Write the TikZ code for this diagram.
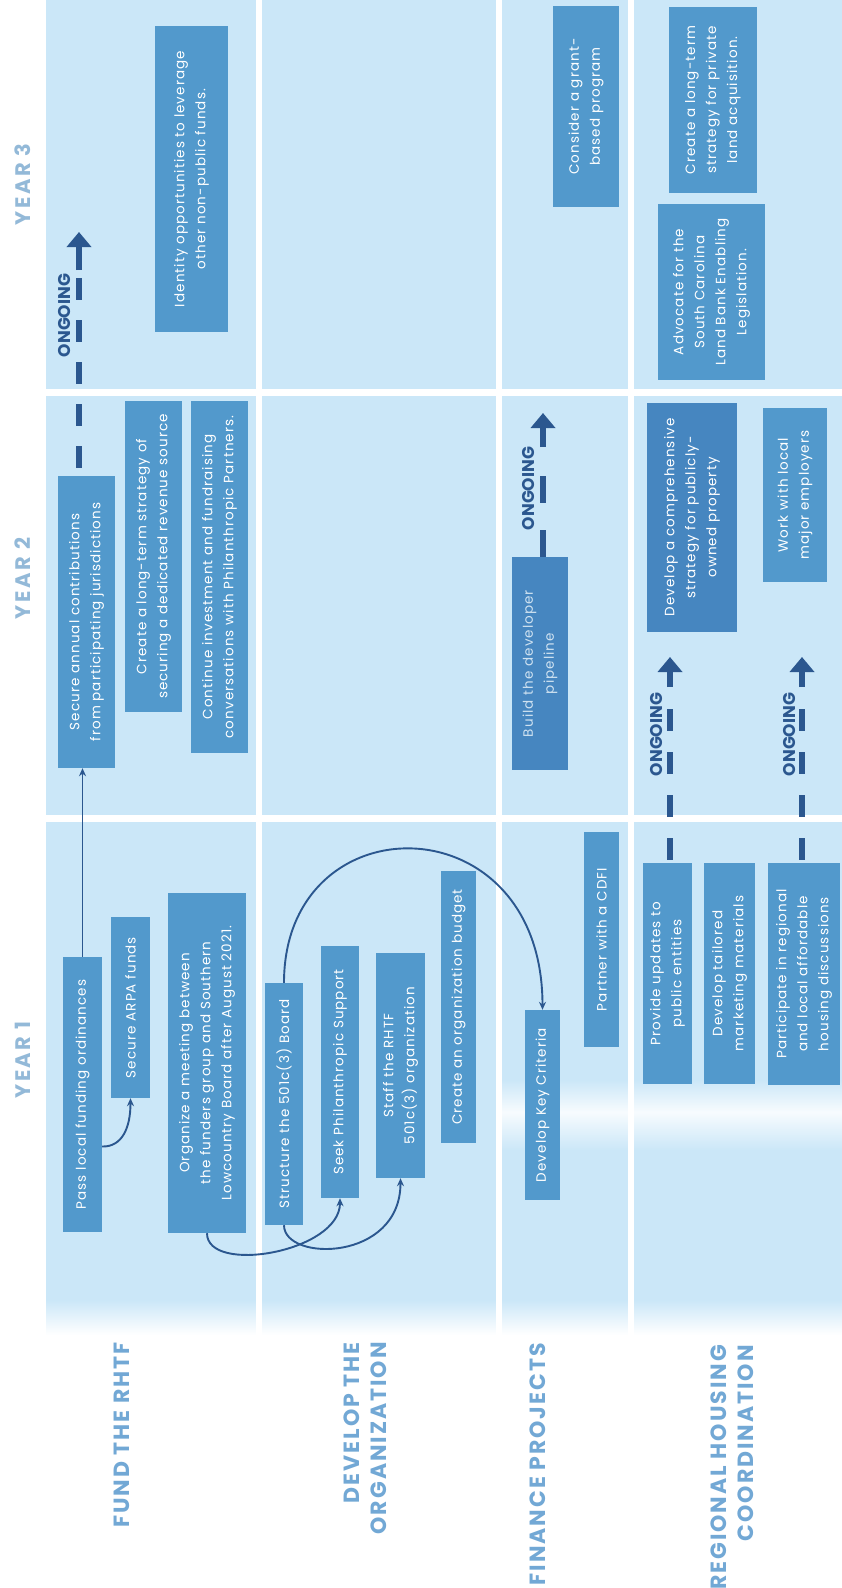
\documentclass[tikz,border=0pt]{standalone}
\usepackage{fontspec}
\setmainfont{Poppins}
\newfontfamily\boxfont[LetterSpace=8]{Poppins}
\newfontfamily\lblfont[LetterSpace=9]{Poppins}
\newfontfamily\yrfont[LetterSpace=12]{Poppins}
\usetikzlibrary{arrows.meta,calc}
\definecolor{bgblue}{HTML}{CBE7F8}
\definecolor{boxblue}{HTML}{5299CC}
\definecolor{boxdark}{HTML}{4686C0}
\definecolor{navy}{HTML}{2B578F}
\definecolor{lblblue}{HTML}{72A8D5}
\definecolor{yrblue}{HTML}{93B9D8}
\definecolor{fadetext}{HTML}{CFE2F1}
\tikzset{
  box/.style={rotate=90, fill=boxblue, text=white, align=center, inner sep=0pt,
    font={\boxfont\fontsize{13.5pt}{21pt}\selectfont}},
  darkbox/.style={box, fill=boxdark},
  thinarr/.style={draw=navy, line width=1.9pt, -{Stealth[length=8pt,width=7pt]}},
  dashln/.style={draw=navy, line width=6pt},
  ongarrow/.style={draw=navy, line width=6pt, -{Triangle[width=24pt,length=15pt]}},
  ongtext/.style={rotate=90, text=navy, inner sep=0pt,
    font={\bfseries\fontsize{17pt}{17pt}\selectfont}},
  rowlbl/.style={rotate=90, anchor=east, align=right, text=lblblue, inner sep=0pt,
    font={\lblfont\bfseries\fontsize{22pt}{27pt}\selectfont}},
  yrlbl/.style={rotate=90, text=yrblue, inner sep=0pt,
    font={\yrfont\bfseries\fontsize{21pt}{27pt}\selectfont}},
  sep/.style={draw=white, line width=6pt}
}
\begin{document}
\begin{tikzpicture}[x=1pt, y=-1pt]
\useasboundingbox (0,0) rectangle (842,1588);
\fill[white] (0,0) rectangle (842,1588);
% background grid
\fill[bgblue] (46,0) rectangle (842,1300);
\shade[top color=bgblue, bottom color=white] (46,1300) rectangle (842,1335);
% soft glare band across year 1
\shade[top color=bgblue, bottom color=white!85!bgblue] (502,1080) rectangle (842,1112);
\shade[top color=white!85!bgblue, bottom color=bgblue] (502,1112) rectangle (842,1150);
\draw[sep] (259,0) -- (259,1335);
\draw[sep] (498.5,0) -- (498.5,1335);
\draw[sep] (631,0) -- (631,1335);
\draw[sep, line width=7pt] (46,392.5) -- (842,392.5);
\draw[sep, line width=7pt] (46,818) -- (842,818);

% year labels
\node[yrlbl] (y1) at (22.5,1060) {YEAR 1};
\node[yrlbl] (y2) at (22.5,578.5) {YEAR 2};
\node[yrlbl] (y3) at (22.5,184.5) {YEAR 3};

% row labels
\node[rowlbl] (l1) at (122,1342) {FUND THE RHTF};
\node[rowlbl] (l2) at (365,1342) {DEVELOP THE\\ORGANIZATION};
\node[rowlbl] (l3) at (538,1343) {FINANCE PROJECTS};
\node[rowlbl] (l4) at (732,1345) {REGIONAL HOUSING\\COORDINATION};

% FUND THE RHTF
\node[box, minimum width=275pt, minimum height=39pt] (pass) at (82.5,1094.5) {Pass local funding ordinances};
\node[box, minimum width=181pt, minimum height=39pt] (arpa) at (130.5,1007.5) {Secure ARPA funds};
\node[box, minimum width=340pt, minimum height=78pt] (org) at (207,1063) {Organize a meeting between\\the funders group and Southern\\Lowcountry Board after August 2021.};
\node[box, minimum width=292pt, minimum height=57pt] (annual) at (86.5,622) {Secure annual contributions\\from participating jurisdictions};
\node[box, minimum width=311pt, minimum height=57pt] (longterm) at (153.5,556.5) {Create a long-term strategy of\\securing a dedicated revenue source};
\node[box, minimum width=352pt, minimum height=57pt] (continue) at (219.5,577) {Continue investment and fundraising\\conversations with Philanthropic Partners.};
\node[box, minimum width=306pt, minimum height=73pt] (identity) at (191.5,179) {Identity opportunities to leverage\\other non-public funds.};

% DEVELOP THE ORGANIZATION
\node[box, minimum width=242pt, minimum height=38pt] (structure) at (284,1104) {Structure the 501c(3) Board};
\node[box, minimum width=252pt, minimum height=38pt] (seek) at (340,1072) {Seek Philanthropic Support};
\node[box, minimum width=225pt, minimum height=49pt] (staff) at (400.5,1065.5) {Staff the RHTF\\501c(3) organization};
\node[box, minimum width=272pt, minimum height=35pt] (budget) at (458.5,1007) {Create an organization budget};

% FINANCE PROJECTS
\node[box, minimum width=190pt, minimum height=35pt] (keycrit) at (542.5,1105) {Develop Key Criteria};
\node[box, minimum width=215pt, minimum height=35pt] (cdfi) at (601.5,939.5) {Partner with a CDFI};
\node[darkbox, text=fadetext, minimum width=213pt, minimum height=56pt] (pipeline) at (540,663.5) {Build the developer\\pipeline};
\node[box, minimum width=201pt, minimum height=66pt] (grant) at (586,106.5) {Consider a grant-\\based program};

% REGIONAL HOUSING COORDINATION
\node[box, minimum width=221pt, minimum height=49pt] (updates) at (667.5,973.5) {Provide updates to\\public entities};
\node[box, minimum width=221pt, minimum height=51pt] (tailored) at (729.5,973.5) {Develop tailored\\marketing materials};
\node[box, minimum width=222pt, minimum height=72pt] (participate) at (804,974) {Participate in regional\\and local affordable\\housing discussions};
\node[darkbox, minimum width=229pt, minimum height=90pt] (comprehensive) at (692,517.5) {Develop a comprehensive\\strategy for publicly-\\owned property};
\node[box, minimum width=174pt, minimum height=64pt] (employers) at (795,495) {Work with local\\major employers};
\node[box, minimum width=176pt, minimum height=107pt] (advocate) at (711.5,292) {Advocate for the\\South Carolina\\Land Bank Enabling\\Legislation.};
\node[box, minimum width=186pt, minimum height=88pt] (private) at (713,100) {Create a long-term\\strategy for private\\land acquisition.};

% thin connectors
\draw[thinarr] (pass.east) -- (pass.east |- annual.west);
\coordinate (passr) at ($(pass.south)+(0,52)$);
\draw[thinarr] (passr) .. controls (122,1147) and (130.5,1128) .. (arpa.west);
\draw[thinarr] (org.west) .. controls (207,1275) and (340,1252) .. (seek.west);
\draw[thinarr] (structure.west) .. controls (284,1262) and (400.5,1262) .. (staff.west);
\draw[thinarr] (structure.east) .. controls (284,800) and (542.5,800) .. (keycrit.east);

% ONGOING: fund
\coordinate (f0) at ($(annual.east)+(-7.5,0)$);
\draw[dashln, dash pattern=on 22pt off 20pt, dash phase=34pt] (f0) -- ++(0,-202);
\coordinate (f1) at (79,270);
\coordinate (f2) at (79,232);
\draw[ongarrow] (f1) -- (f2);
\node[ongtext] (ft) at (65,315.5) {ONGOING};

% ONGOING: pipeline
\coordinate (p0) at ($(pipeline.east)+(3,0)$);
\draw[dashln, dash pattern=on 27pt off 27pt] (p0) -- ++(0,-108);
\coordinate (p1) at (543,447);
\coordinate (p2) at (543,413);
\draw[ongarrow] (p1) -- (p2);
\node[ongtext] (pt) at (528.5,488.5) {ONGOING};

% ONGOING: updates
\coordinate (u0) at ($(updates.east)+(2.5,0)$);
\draw[dashln, dash pattern=on 22pt off 21pt, dash phase=40pt] (u0) -- ++(0,-173);
\coordinate (u1) at (670,687);
\coordinate (u2) at (670,657);
\draw[ongarrow] (u1) -- (u2);
\node[ongtext] (ut) at (657,734.5) {ONGOING};

% ONGOING: participate
\coordinate (r0) at ($(participate.east)+(-2,0)$);
\draw[dashln, dash pattern=on 22pt off 21pt, dash phase=40pt] (r0) -- ++(0,-173);
\coordinate (r1) at (802,687);
\coordinate (r2) at (802,657);
\draw[ongarrow] (r1) -- (r2);
\node[ongtext] (rt) at (789,734.5) {ONGOING};
\end{tikzpicture}
\end{document}
